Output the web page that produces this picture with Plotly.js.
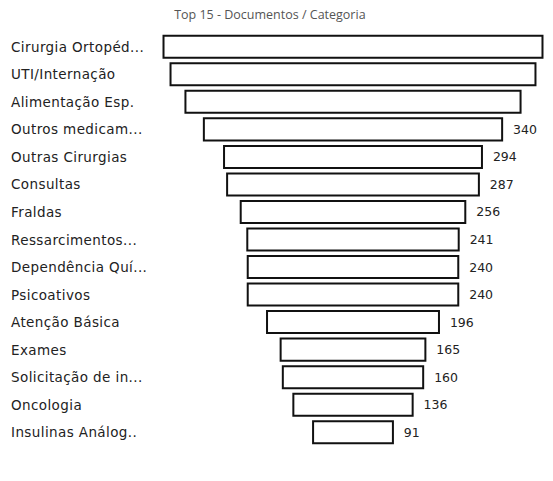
<!DOCTYPE html>
<html>
<head>
<meta charset="utf-8">
<script src="https://cdn.plot.ly/plotly-3.0.1.min.js"></script>
<style>
html,body{margin:0;padding:0;background:#fff;}
#chart{width:553px;height:481px;}
#chart .annotation-text{letter-spacing:0.4px;}
</style>
</head>
<body>
<div id="chart"></div>
<script>
var categories = ["Cirurgia Ortopéd...", "UTI/Internação", "Alimentação Esp.", "Outros medicam...", "Outras Cirurgias", "Consultas", "Fraldas", "Ressarcimentos...", "Dependência Quí...", "Psicoativos", "Atenção Básica", "Exames", "Solicitação de in...", "Oncologia", "Insulinas Análog.."];
var values = [432, 416, 382, 340, 294, 287, 256, 241, 240, 240, 196, 165, 160, 136, 91];
var chartTitle = "Top 15 - Documentos / Categoria";

// labels for the three widest bars do not fit in the plot area and are not shown
var textPos = values.map(function (v) { return v > 360 ? "none" : "outside"; });

var trace = {
  type: "funnel",
  y: categories,
  x: values,
  orientation: "h",
  textinfo: "value",
  texttemplate: "\u00a0\u00a0%{x}",
  textposition: textPos,
  textfont: {family: "'DejaVu Sans', sans-serif", size: 12.5, color: "#222"},
  cliponaxis: false,
  marker: {color: "#ffffff", line: {color: "#111111", width: 2}},
  connector: {visible: false},
  hoverinfo: "y+x"
};

var annotations = categories.map(function (c) {
  return {
    xref: "paper", yref: "y", x: -0.39, y: c, text: c,
    xanchor: "left", yanchor: "middle", align: "left", showarrow: false,
    font: {family: "'DejaVu Sans', sans-serif", size: 13.5, color: "#222"}
  };
});

var layout = {
  width: 553, height: 481,
  margin: {l: 160, r: 7, t: 33, b: 35, pad: 0},
  paper_bgcolor: "#fff", plot_bgcolor: "#fff",
  title: {text: chartTitle, x: 0.488, xanchor: "center", xref: "container", y: 0.969, yanchor: "middle", yref: "container",
          font: {family: "'Open Sans', sans-serif", size: 12.5, color: "#555"}},
  xaxis: {range: [-220, 220], visible: false, fixedrange: true},
  yaxis: {showticklabels: false, showgrid: false, zeroline: false, showline: false, ticks: ""},
  bargap: 0.08,
  showlegend: false,
  annotations: annotations
};

Plotly.newPlot("chart", [trace], layout, {displayModeBar: false, staticPlot: true});
</script>
</body>
</html>
